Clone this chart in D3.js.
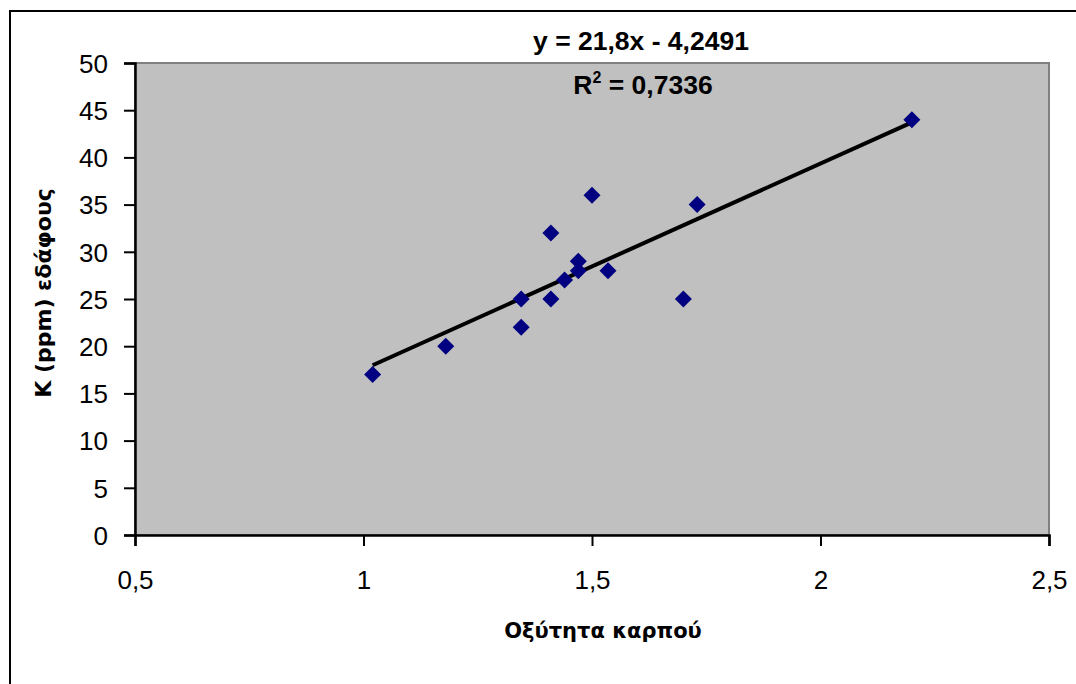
<!DOCTYPE html>
<html><head><meta charset="utf-8">
<script src="https://cdn.jsdelivr.net/npm/d3@7"></script>
<style>body{margin:0;background:#fff}svg{display:block}</style>
</head><body>
<svg id="c" width="1076" height="684"></svg>
<script>
const acidity = [1.02, 1.18, 1.345, 1.345, 1.41, 1.41, 1.44, 1.47, 1.47, 1.50, 1.535, 1.70, 1.73, 2.20];
const potassium = [17, 20, 25, 22, 32, 25, 27, 29, 28, 36, 28, 25, 35, 44];
const xTicks = [0.5, 1, 1.5, 2, 2.5];
const yTicks = [0, 5, 10, 15, 20, 25, 30, 35, 40, 45, 50];
const slope = 21.8, intercept = -4.2491;
const eqText = "y = 21,8x - 4,2491";
const r2Value = "0,7336";
const xTitle = "Οξύτητα καρπού";
const yTitle = "K (ppm) εδάφους";

const svg = d3.select("#c");
const L = 135, R = 1049, T = 63, B = 535;
const x = d3.scaleLinear().domain([0.5, 2.5]).range([L, R]);
const y = d3.scaleLinear().domain([0, 50]).range([B, T]);
const fmt = d => String(d).replace(".", ",");

// outer frame
svg.append("rect").attr("x", 10).attr("y", 11).attr("width", 1100).attr("height", 700)
  .attr("fill", "none").attr("stroke", "#000").attr("stroke-width", 2);

// plot area
svg.append("rect").attr("x", L).attr("y", T).attr("width", R - L).attr("height", B - T)
  .attr("fill", "#c0c0c0").attr("stroke", "#808080").attr("stroke-width", 2);

// axes
const xAxis = svg.append("g").attr("transform", `translate(0,${B})`)
  .call(d3.axisBottom(x).tickValues(xTicks).tickFormat(fmt).tickSize(11).tickPadding(24));
const yAxis = svg.append("g").attr("transform", `translate(${L},0)`)
  .call(d3.axisLeft(y).tickValues(yTicks).tickFormat(fmt).tickSize(11).tickPadding(16));
[xAxis, yAxis].forEach(a => {
  a.select(".domain").attr("stroke", "#000").attr("stroke-width", 2.5);
  a.selectAll(".tick line").attr("stroke", "#000").attr("stroke-width", 2);
  a.selectAll("text").attr("font-family", "Liberation Sans, Arial, sans-serif")
    .attr("font-size", 26).attr("fill", "#000");
});
yAxis.selectAll("text").attr("dy", "0.36em");
xAxis.selectAll("text").attr("dy", "0.72em");

// trendline
const x0 = d3.min(acidity), x1 = d3.max(acidity);
svg.append("line")
  .attr("x1", x(x0)).attr("y1", y(slope * x0 + intercept))
  .attr("x2", x(x1)).attr("y2", y(slope * x1 + intercept))
  .attr("stroke", "#000").attr("stroke-width", 4);

// points
const pts = acidity.map((a, i) => ({a, k: potassium[i]}));
svg.append("g").selectAll("path").data(pts).join("path")
  .attr("transform", d => `translate(${x(d.a)},${y(d.k)})`)
  .attr("d", "M0,-8.5L8.5,0L0,8.5L-8.5,0Z")
  .attr("fill", "#000080");

// equation
svg.append("text").attr("x", 641).attr("y", 50).attr("text-anchor", "middle")
  .attr("font-family", "Liberation Sans, Arial, sans-serif").attr("font-weight", "bold")
  .attr("font-size", 26.5).text(eqText);
const r2 = svg.append("text").attr("x", 643).attr("y", 94).attr("text-anchor", "middle")
  .attr("font-family", "Liberation Sans, Arial, sans-serif").attr("font-weight", "bold")
  .attr("font-size", 26.5);
r2.append("tspan").text("R");
r2.append("tspan").attr("font-size", 16).attr("dy", -11).text("2");
r2.append("tspan").attr("dy", 11).text(" = " + r2Value);

// axis titles
svg.append("text").attr("x", 603).attr("y", 638).attr("text-anchor", "middle")
  .attr("font-family", "DejaVu Sans, sans-serif").attr("font-weight", "bold")
  .attr("font-size", 21).text(xTitle);
svg.append("text").attr("transform", "translate(51,293) rotate(-90)").attr("text-anchor", "middle")
  .attr("font-family", "DejaVu Sans, sans-serif").attr("font-weight", "bold")
  .attr("font-size", 22).text(yTitle);
</script>
</body></html>
